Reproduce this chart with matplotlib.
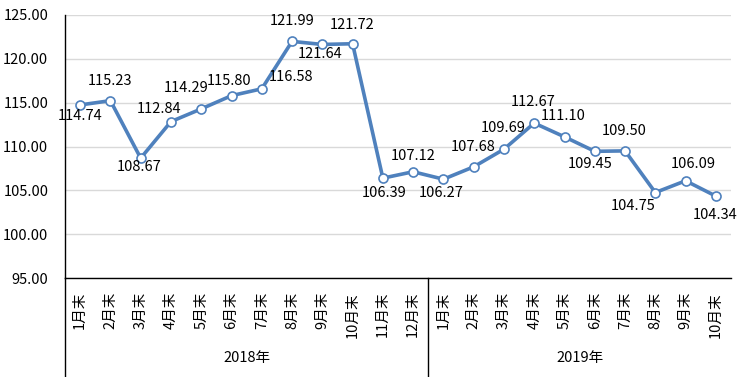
import matplotlib
matplotlib.use("Agg")
import matplotlib.pyplot as plt
from matplotlib.transforms import blended_transform_factory

plt.rcParams['font.family'] = ['Noto Sans CJK SC', 'DejaVu Sans']

years = ["2018年", "2019年"]
months_2018 = ["1月末", "2月末", "3月末", "4月末", "5月末", "6月末", "7月末", "8月末", "9月末", "10月末", "11月末", "12月末"]
months_2019 = ["1月末", "2月末", "3月末", "4月末", "5月末", "6月末", "7月末", "8月末", "9月末", "10月末"]
values_2018 = [114.74, 115.23, 108.67, 112.84, 114.29, 115.80, 116.58, 121.99, 121.64, 121.72, 106.39, 107.12]
values_2019 = [106.27, 107.68, 109.69, 112.67, 111.10, 109.45, 109.50, 104.75, 106.09, 104.34]

# data-label offsets from each point, in pixels (dx right, dy down)
label_offsets = [(0, 11), (0, -20), (-2, 9), (-12, -13), (-15, -21), (-2, -15), (29, -12),
                 (0, -20), (-2, 10), (0, -19), (1, 15), (0, -16),
                 (-2, 14), (-1, -20), (-1, -21), (-1, -21), (-1, -21), (-5, 13), (-1, -20),
                 (-22, 13), (8, -17), (-1, 19)]

cats = months_2018 + months_2019
vals = values_2018 + values_2019
n = len(cats)
xs = list(range(n))

W, H = 742, 377
fig = plt.figure(figsize=(W / 100, H / 100), dpi=100)
left, right, top, bottom = 65, 731, 15, 278
ax = fig.add_axes([left / W, 1 - bottom / H, (right - left) / W, (bottom - top) / H])

blue = '#4F81BD'
ax.plot(xs, vals, color=blue, lw=2.6, marker='o', ms=6.5, mfc='white', mec=blue, mew=1.2, zorder=3)

ax.set_xlim(-0.5, n - 0.5)
ax.set_ylim(95, 125)
yt = [95, 100, 105, 110, 115, 120, 125]
ax.set_yticks(yt)
ax.set_yticklabels([f"{v:.2f}" for v in yt], fontsize=10.5)
ax.yaxis.grid(True, color='#D9D9D9', lw=1)
ax.set_axisbelow(True)
ax.tick_params(axis='y', length=0, pad=12)
for s in ['top', 'right']:
    ax.spines[s].set_visible(False)
for s in ['left', 'bottom']:
    ax.spines[s].set_color('black')
    ax.spines[s].set_linewidth(1)

ax.set_xticks(xs)
ax.set_xticklabels(cats, rotation=90, fontsize=10.5, va='top')
ax.tick_params(axis='x', length=0, pad=10)

# data labels
for x, v, (dx, dy) in zip(xs, vals, label_offsets):
    ax.annotate(f"{v:.2f}", (x, v), xytext=(dx, -dy), textcoords='offset pixels',
                ha='center', va='center', fontsize=10.5)

# group separators and year labels
trans = blended_transform_factory(ax.transData, fig.transFigure)
y_axis_bottom = 1 - bottom / H
for xsep in [-0.5, len(months_2018) - 0.5]:
    ax.plot([xsep, xsep], [0, y_axis_bottom], transform=trans, color='black', lw=1, clip_on=False)
ax.text((len(months_2018) - 1) / 2, 1 - 358 / H, years[0], transform=trans, ha='center', va='center', fontsize=10.5)
ax.text(len(months_2018) + (len(months_2019) - 1) / 2, 1 - 358 / H, years[1], transform=trans, ha='center', va='center', fontsize=10.5)

fig.savefig("out.png", dpi=100)
